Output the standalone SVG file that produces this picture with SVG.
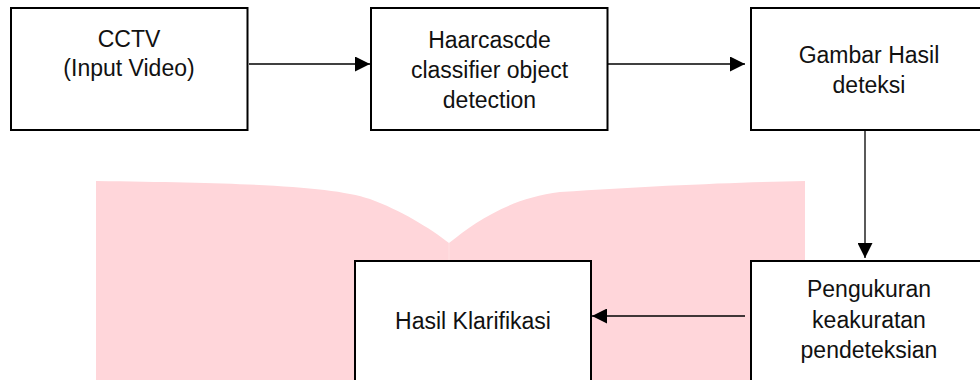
<svg xmlns="http://www.w3.org/2000/svg" width="980" height="380" viewBox="0 0 980 380">
<style>
.box{fill:#fff;stroke:#000;stroke-width:2}
.lbl{font-family:"Liberation Sans",Arial,sans-serif;font-size:23px;fill:#111;text-anchor:middle}
.con{stroke:#000;stroke-width:1.3;fill:none;marker-end:url(#ah)}
</style>
<defs>
<marker id="ah" markerWidth="15" markerHeight="15" refX="15" refY="7.5" orient="auto" markerUnits="userSpaceOnUse">
<path d="M0,0 L15,7.5 L0,15 Z" fill="#000"/>
</marker>
</defs>
<rect width="980" height="380" fill="#fff"/>
<path id="watermark" d="M96,181 C250,183 330,186 370,199 C400,210 430,228 449,243 C475,222 510,198 560,192 C650,186 740,182 805,181 L805,380 L96,380 Z" fill="#FFD6DA"/>
<line x1="449" y1="243" x2="449" y2="380" stroke="#fff" stroke-opacity="0.25" stroke-width="1"/>
<g id="connectors">
<line class="con" x1="249" y1="64" x2="370" y2="64"/>
<line class="con" x1="608" y1="64" x2="745" y2="64"/>
<line class="con" x1="865" y1="131" x2="865" y2="258"/>
<line class="con" x1="745" y1="316" x2="592" y2="316"/>
</g>
<g id="cctv">
<rect class="box" x="11" y="8" width="236.5" height="122"/>
<text class="lbl" x="129" y="47">CCTV</text>
<text class="lbl" x="129" y="76">(Input Video)</text>
</g>
<g id="haarcascade">
<rect class="box" x="371" y="8" width="236.5" height="122"/>
<text class="lbl" x="489.5" y="48">Haarcascde</text>
<text class="lbl" x="489.5" y="78">classifier object</text>
<text class="lbl" x="489.5" y="108">detection</text>
</g>
<g id="gambar">
<rect class="box" x="751" y="8" width="236" height="122"/>
<text class="lbl" x="869" y="63">Gambar Hasil</text>
<text class="lbl" x="869" y="93">deteksi</text>
</g>
<g id="pengukuran">
<rect class="box" x="751" y="261" width="236" height="130"/>
<text class="lbl" x="869" y="297">Pengukuran</text>
<text class="lbl" x="869" y="327.5">keakuratan</text>
<text class="lbl" x="869" y="358">pendeteksian</text>
</g>
<g id="hasil">
<rect class="box" x="355" y="261" width="236" height="130"/>
<text class="lbl" x="473" y="329">Hasil Klarifikasi</text>
</g>
</svg>
